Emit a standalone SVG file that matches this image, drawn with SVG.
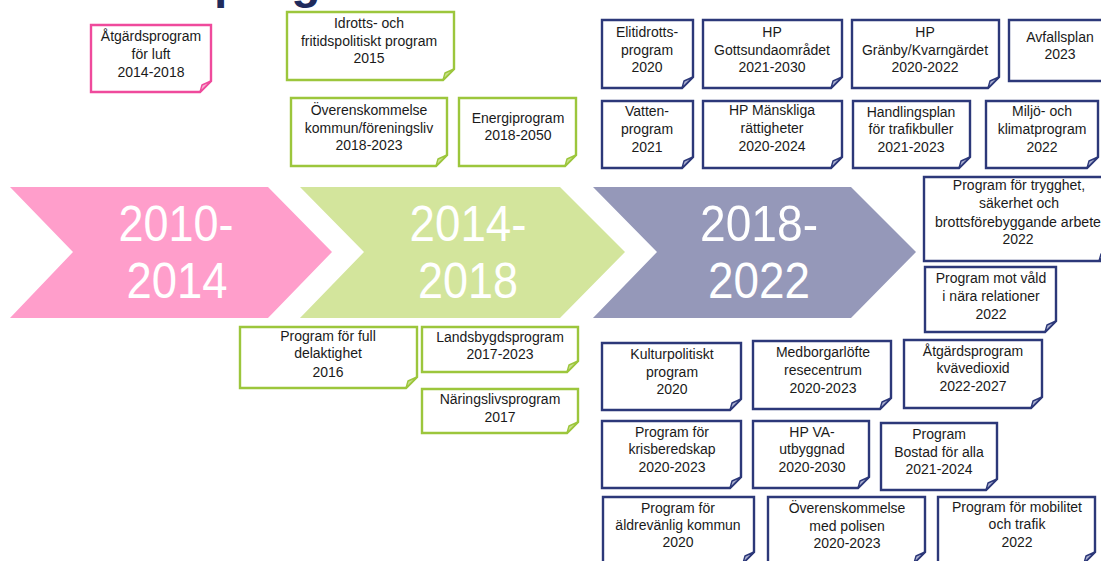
<svg xmlns="http://www.w3.org/2000/svg" width="1101" height="561" viewBox="0 0 1101 561">
<style>
.note{fill:#fff;stroke-width:2.4;stroke-linejoin:miter}
.pk{stroke:#EF4A9C}.gr{stroke:#9CC63C}.nv{stroke:#2C3879}
.fold{stroke-width:1.4;stroke-linejoin:round}
.fpk{fill:#F7B3D4;stroke:#EF4A9C}.fgr{fill:#CBE08E;stroke:#9CC63C}.fnv{fill:#AEB3D2;stroke:#2C3879}
.t{font-family:"Liberation Sans",Arial,sans-serif;font-size:14px;fill:#1a1a1a;text-anchor:middle}
.big{font-family:"Liberation Sans Narrow","Liberation Sans",Arial,sans-serif;font-size:50px;fill:#fff;text-anchor:middle}
.title{font-family:"Liberation Sans",Arial,sans-serif;font-size:48px;font-weight:bold;fill:#1F2B5C}
</style>
<rect width="1101" height="561" fill="#fff"/>
<text class="title" x="214" y="-2">program</text>

<g id="chevrons">
<g id="c1"><polygon points="10,187 268,187 332,252 268,318 10,318 73,252" fill="#FF9ECB"/>
<text class="big" x="176" y="241" textLength="115" lengthAdjust="spacingAndGlyphs">2010-</text>
<text class="big" x="177" y="298" textLength="101" lengthAdjust="spacingAndGlyphs">2014</text></g>
<g id="c2"><polygon points="300,187 560,187 625,252 560,318 300,318 364,252" fill="#D3E59C"/>
<text class="big" x="468" y="241" textLength="117" lengthAdjust="spacingAndGlyphs">2014-</text>
<text class="big" x="468" y="298" textLength="100" lengthAdjust="spacingAndGlyphs">2018</text></g>
<g id="c3"><polygon points="593,187 851,187 916,252 851,318 593,318 657,252" fill="#9598B9"/>
<text class="big" x="759" y="241" textLength="118" lengthAdjust="spacingAndGlyphs">2018-</text>
<text class="big" x="759" y="298" textLength="102" lengthAdjust="spacingAndGlyphs">2022</text></g>
</g>

<g id="n-luft"><path class="note pk" d="M91 25H211V81L200 92H91Z"/><path class="fold fpk" d="M200 92L202 85L211 81Z"/>
<text class="t" x="151" y="41">Åtgärdsprogram</text><text class="t" x="151" y="59">för luft</text><text class="t" x="151" y="77">2014-2018</text></g>

<g id="n-idrott"><path class="note gr" d="M287 12H454V69L443 80H287Z"/><path class="fold fgr" d="M443 80L445 73L454 69Z"/>
<text class="t" x="369" y="28">Idrotts- och</text><text class="t" x="369" y="46">fritidspolitiskt program</text><text class="t" x="369" y="63">2015</text></g>

<g id="n-forening"><path class="note gr" d="M291 98H447V155L436 166H291Z"/><path class="fold fgr" d="M436 166L438 159L447 155Z"/>
<text class="t" x="369" y="115">Överenskommelse</text><text class="t" x="369" y="133">kommun/föreningsliv</text><text class="t" x="369" y="150">2018-2023</text></g>

<g id="n-energi"><path class="note gr" d="M459 98H576V155L565 166H459Z"/><path class="fold fgr" d="M565 166L567 159L576 155Z"/>
<text class="t" x="518" y="123">Energiprogram</text><text class="t" x="518" y="140">2018-2050</text></g>

<g id="n-delaktighet"><path class="note gr" d="M240 327H417V377L406 388H240Z"/><path class="fold fgr" d="M406 388L408 381L417 377Z"/>
<text class="t" x="328" y="341">Program för full</text><text class="t" x="328" y="358">delaktighet</text><text class="t" x="328" y="377">2016</text></g>

<g id="n-landsbygd"><path class="note gr" d="M422 327H578V361L567 372H422Z"/><path class="fold fgr" d="M567 372L569 365L578 361Z"/>
<text class="t" x="500" y="342">Landsbygdsprogram</text><text class="t" x="500" y="359">2017-2023</text></g>

<g id="n-naringsliv"><path class="note gr" d="M422 389H578V422L567 433H422Z"/><path class="fold fgr" d="M567 433L569 426L578 422Z"/>
<text class="t" x="500" y="404">Näringslivsprogram</text><text class="t" x="500" y="422">2017</text></g>

<g id="n-elit"><path class="note nv" d="M602 20H693V77L682 88H602Z"/><path class="fold fnv" d="M682 88L684 81L693 77Z"/>
<text class="t" x="647" y="37">Elitidrotts-</text><text class="t" x="647" y="55">program</text><text class="t" x="647" y="72">2020</text></g>

<g id="n-gottsund"><path class="note nv" d="M703 20H842V77L831 88H703Z"/><path class="fold fnv" d="M831 88L833 81L842 77Z"/>
<text class="t" x="772" y="37">HP</text><text class="t" x="772" y="55">Gottsundaområdet</text><text class="t" x="772" y="72">2021-2030</text></g>

<g id="n-granby"><path class="note nv" d="M852 20H999V77L988 88H852Z"/><path class="fold fnv" d="M988 88L990 81L999 77Z"/>
<text class="t" x="925" y="37">HP</text><text class="t" x="925" y="55">Gränby/Kvarngärdet</text><text class="t" x="925" y="72">2020-2022</text></g>

<g id="n-avfall"><path class="note nv" d="M1009 20H1112V81H1009Z"/>
<text class="t" x="1060" y="42">Avfallsplan</text><text class="t" x="1060" y="59">2023</text></g>

<g id="n-vatten"><path class="note nv" d="M602 101H693V157L682 168H602Z"/><path class="fold fnv" d="M682 168L684 161L693 157Z"/>
<text class="t" x="647" y="116">Vatten-</text><text class="t" x="647" y="134">program</text><text class="t" x="647" y="152">2021</text></g>

<g id="n-manskliga"><path class="note nv" d="M703 101H842V157L831 168H703Z"/><path class="fold fnv" d="M831 168L833 161L842 157Z"/>
<text class="t" x="772" y="115">HP Mänskliga</text><text class="t" x="772" y="133">rättigheter</text><text class="t" x="772" y="151">2020-2024</text></g>

<g id="n-trafikbuller"><path class="note nv" d="M853 101H970V157L959 168H853Z"/><path class="fold fnv" d="M959 168L961 161L970 157Z"/>
<text class="t" x="911" y="117">Handlingsplan</text><text class="t" x="911" y="134">för trafikbuller</text><text class="t" x="911" y="152">2021-2023</text></g>

<g id="n-miljo"><path class="note nv" d="M986 101H1098V157L1087 168H986Z"/><path class="fold fnv" d="M1087 168L1089 161L1098 157Z"/>
<text class="t" x="1042" y="116">Miljö- och</text><text class="t" x="1042" y="134">klimatprogram</text><text class="t" x="1042" y="152">2022</text></g>

<g id="n-trygghet"><path class="note nv" d="M924 177H1112V261H924Z"/><path class="fold fnv" d="M1099 261L1101 254L1110 250Z"/>
<text class="t" x="1019" y="190">Program för trygghet,</text><text class="t" x="1019" y="208">säkerhet och</text><text class="t" x="1018" y="227" textLength="166" lengthAdjust="spacingAndGlyphs">brottsförebyggande arbete</text><text class="t" x="1018" y="244">2022</text></g>

<g id="n-vald"><path class="note nv" d="M925 267H1056V321L1045 332H925Z"/><path class="fold fnv" d="M1045 332L1047 325L1056 321Z"/>
<text class="t" x="991" y="283">Program mot våld</text><text class="t" x="991" y="301">i nära relationer</text><text class="t" x="991" y="319">2022</text></g>

<g id="n-kultur"><path class="note nv" d="M602 343H741V399L730 410H602Z"/><path class="fold fnv" d="M730 410L732 403L741 399Z"/>
<text class="t" x="672" y="359">Kulturpolitiskt</text><text class="t" x="672" y="377">program</text><text class="t" x="672" y="394">2020</text></g>

<g id="n-medborgar"><path class="note nv" d="M753 341H891V398L880 409H753Z"/><path class="fold fnv" d="M880 409L882 402L891 398Z"/>
<text class="t" x="823" y="357">Medborgarlöfte</text><text class="t" x="823" y="375">resecentrum</text><text class="t" x="823" y="393">2020-2023</text></g>

<g id="n-kvave"><path class="note nv" d="M904 340H1042V397L1031 408H904Z"/><path class="fold fnv" d="M1031 408L1033 401L1042 397Z"/>
<text class="t" x="973" y="356">Åtgärdsprogram</text><text class="t" x="973" y="373">kvävedioxid</text><text class="t" x="973" y="391">2022-2027</text></g>

<g id="n-kris"><path class="note nv" d="M602 421H741V477L730 488H602Z"/><path class="fold fnv" d="M730 488L732 481L741 477Z"/>
<text class="t" x="672" y="437">Program för</text><text class="t" x="672" y="454">krisberedskap</text><text class="t" x="672" y="472">2020-2023</text></g>

<g id="n-va"><path class="note nv" d="M753 421H869V477L858 488H753Z"/><path class="fold fnv" d="M858 488L860 481L869 477Z"/>
<text class="t" x="812" y="437">HP VA-</text><text class="t" x="812" y="454">utbyggnad</text><text class="t" x="812" y="472">2020-2030</text></g>

<g id="n-bostad"><path class="note nv" d="M881 423H997V479L986 490H881Z"/><path class="fold fnv" d="M986 490L988 483L997 479Z"/>
<text class="t" x="939" y="439">Program</text><text class="t" x="939" y="457">Bostad för alla</text><text class="t" x="939" y="474">2021-2024</text></g>

<g id="n-aldre"><path class="note nv" d="M603 497H754V552L743 563H603Z"/><path class="fold fnv" d="M743 563L745 556L754 552Z"/>
<text class="t" x="678" y="513">Program för</text><text class="t" x="678" y="530">äldrevänlig kommun</text><text class="t" x="678" y="547">2020</text></g>

<g id="n-polisen"><path class="note nv" d="M768 497H925V552L914 563H768Z"/><path class="fold fnv" d="M914 563L916 556L925 552Z"/>
<text class="t" x="847" y="513">Överenskommelse</text><text class="t" x="847" y="531">med polisen</text><text class="t" x="847" y="548">2020-2023</text></g>

<g id="n-mobilitet"><path class="note nv" d="M938 497H1095V552L1084 563H938Z"/><path class="fold fnv" d="M1084 563L1086 556L1095 552Z"/>
<text class="t" x="1017" y="512">Program för mobilitet</text><text class="t" x="1017" y="529">och trafik</text><text class="t" x="1017" y="547">2022</text></g>

<g id="connectors"/>
</svg>
